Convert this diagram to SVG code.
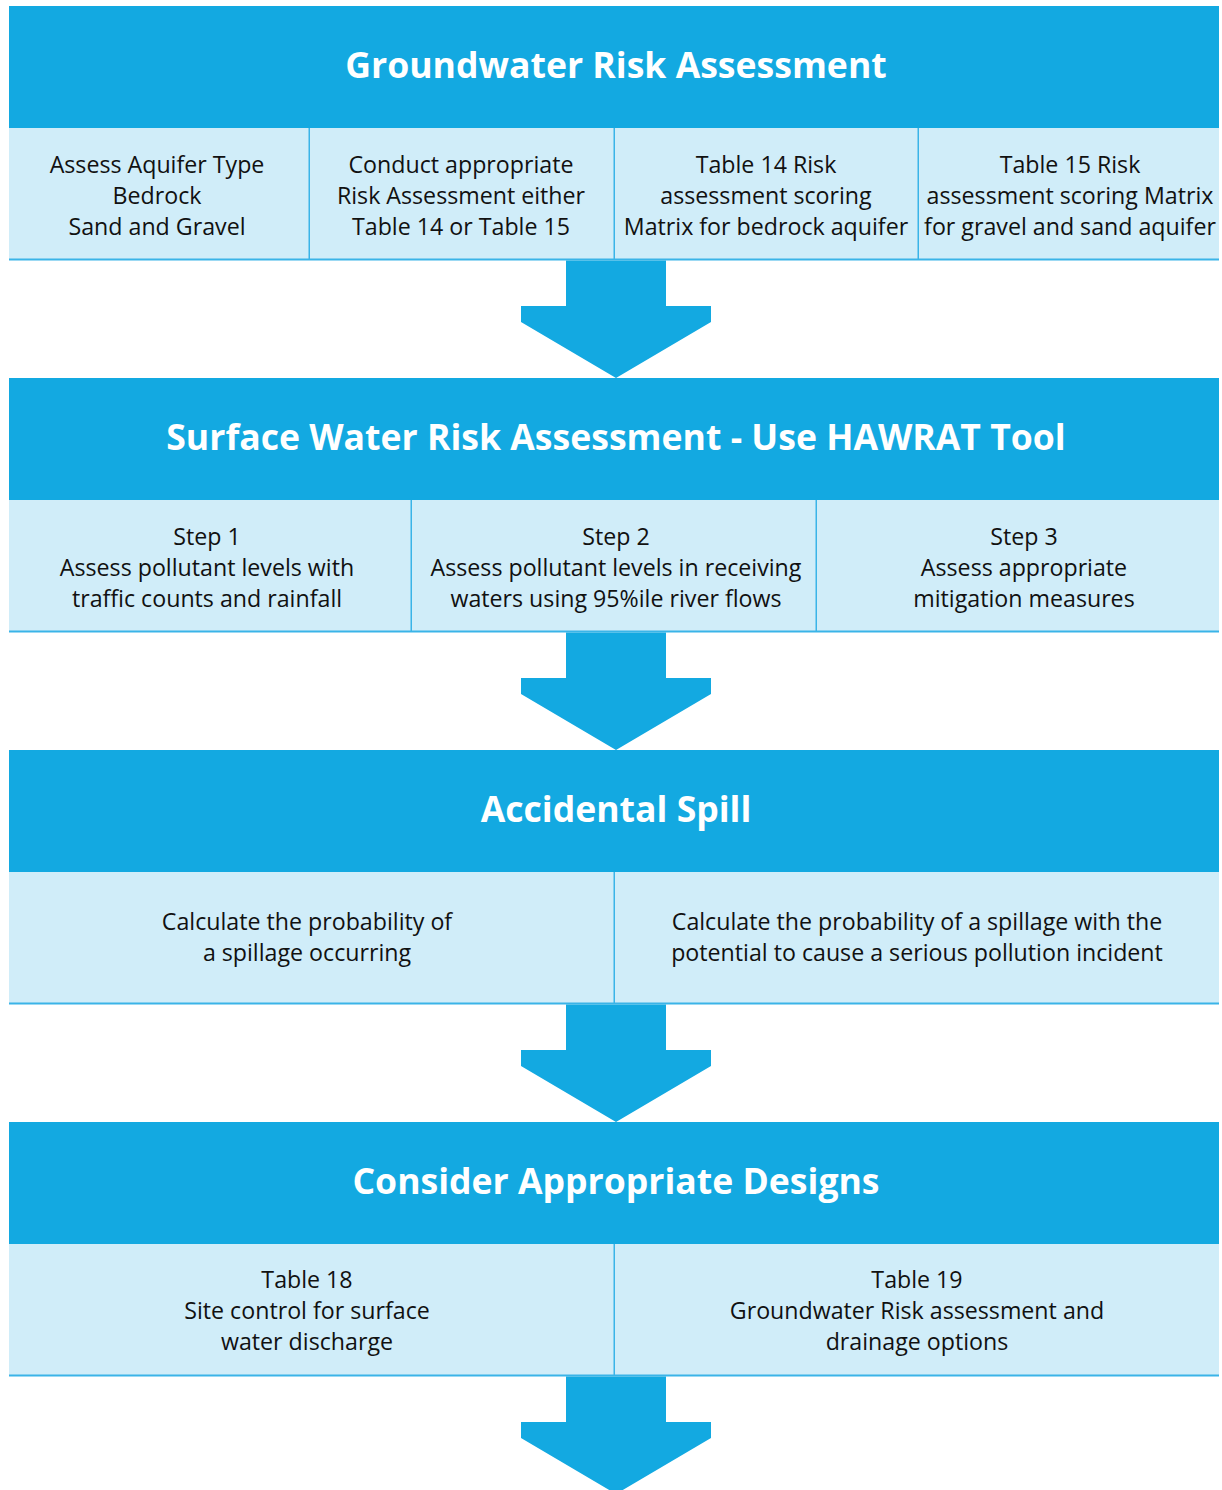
<svg xmlns="http://www.w3.org/2000/svg" width="1222" height="1490" viewBox="0 0 1222 1490">
<style>
.hdr{fill:#13a9e1}
.cell{fill:#d0edf9}
.line{fill:#3ab4e8}
.title{font-family:"Open Sans","Liberation Sans",sans-serif;font-weight:bold;font-size:35.6px;fill:#ffffff;text-anchor:middle}
.txt{font-family:"Open Sans","Liberation Sans",sans-serif;font-size:23.2px;fill:#111111;text-anchor:middle}
.arrow{fill:#13a9e1}
</style>
<rect width="1222" height="1490" fill="#ffffff"/>

<!-- Section 1 -->
<g id="groundwater-header">
<rect class="hdr" x="9" y="6" width="1210" height="122"/>
<text class="title" x="616" y="78">Groundwater Risk Assessment</text>
</g>
<g id="gw-cells-bg">
<rect class="cell" x="9" y="128" width="1210" height="132"/>
<rect class="line" x="9" y="258.5" width="1210" height="2"/>
<rect class="line" x="308.5" y="128" width="1.5" height="131"/>
<rect class="line" x="613.5" y="128" width="1.5" height="131"/>
<rect class="line" x="917.5" y="128" width="1.5" height="131"/>
</g>
<g id="gw-cell-1"><text class="txt" x="157" y="172.5">Assess Aquifer Type<tspan x="157" dy="31">Bedrock</tspan><tspan x="157" dy="31">Sand and Gravel</tspan></text></g>
<g id="gw-cell-2"><text class="txt" x="461" y="172.5">Conduct appropriate<tspan x="461" dy="31">Risk Assessment either</tspan><tspan x="461" dy="31">Table 14 or Table 15</tspan></text></g>
<g id="gw-cell-3"><text class="txt" x="766" y="172.5">Table 14 Risk<tspan x="766" dy="31">assessment scoring</tspan><tspan x="766" dy="31">Matrix for bedrock aquifer</tspan></text></g>
<g id="gw-cell-4"><text class="txt" x="1070" y="172.5">Table 15 Risk<tspan x="1070" dy="31">assessment scoring Matrix</tspan><tspan x="1070" dy="31">for gravel and sand aquifer</tspan></text></g>

<!-- Section 2 -->
<g id="surface-header">
<rect class="hdr" x="9" y="378" width="1210" height="122"/>
<text class="title" x="616" y="450">Surface Water Risk Assessment - Use HAWRAT Tool</text>
</g>
<g id="sw-cells-bg">
<rect class="cell" x="9" y="500" width="1210" height="132"/>
<rect class="line" x="9" y="630.5" width="1210" height="2"/>
<rect class="line" x="410.5" y="500" width="1.5" height="131"/>
<rect class="line" x="815.5" y="500" width="1.5" height="131"/>
</g>
<g id="sw-step-1"><text class="txt" x="207" y="544.5">Step 1<tspan x="207" dy="31">Assess pollutant levels with</tspan><tspan x="207" dy="31">traffic counts and rainfall</tspan></text></g>
<g id="sw-step-2"><text class="txt" x="616" y="544.5">Step 2<tspan x="616" dy="31">Assess pollutant levels in receiving</tspan><tspan x="616" dy="31">waters using 95%ile river flows</tspan></text></g>
<g id="sw-step-3"><text class="txt" x="1024" y="544.5">Step 3<tspan x="1024" dy="31">Assess appropriate</tspan><tspan x="1024" dy="31">mitigation measures</tspan></text></g>

<!-- Section 3 -->
<g id="spill-header">
<rect class="hdr" x="9" y="750" width="1210" height="122"/>
<text class="title" x="616" y="822">Accidental Spill</text>
</g>
<g id="spill-cells-bg">
<rect class="cell" x="9" y="872" width="1210" height="132"/>
<rect class="line" x="9" y="1002.5" width="1210" height="2"/>
<rect class="line" x="613.5" y="872" width="1.5" height="131"/>
</g>
<g id="spill-cell-1"><text class="txt" x="307" y="930">Calculate the probability of<tspan x="307" dy="31">a spillage occurring</tspan></text></g>
<g id="spill-cell-2"><text class="txt" x="917" y="930">Calculate the probability of a spillage with the<tspan x="917" dy="31">potential to cause a serious pollution incident</tspan></text></g>

<!-- Section 4 -->
<g id="designs-header">
<rect class="hdr" x="9" y="1122" width="1210" height="122"/>
<text class="title" x="616" y="1194">Consider Appropriate Designs</text>
</g>
<g id="designs-cells-bg">
<rect class="cell" x="9" y="1244" width="1210" height="132"/>
<rect class="line" x="9" y="1374.5" width="1210" height="2"/>
<rect class="line" x="613.5" y="1244" width="1.5" height="131"/>
</g>
<g id="designs-cell-1"><text class="txt" x="307" y="1287.5">Table 18<tspan x="307" dy="31">Site control for surface</tspan><tspan x="307" dy="31">water discharge</tspan></text></g>
<g id="designs-cell-2"><text class="txt" x="917" y="1287.5">Table 19<tspan x="917" dy="31">Groundwater Risk assessment and</tspan><tspan x="917" dy="31">drainage options</tspan></text></g>

<!-- Connectors -->
<g id="connectors">
<polygon class="arrow" points="566,260.5 666,260.5 666,306 711,306 711,322 616,378 521,322 521,306 566,306"/>
<polygon class="arrow" points="566,632.5 666,632.5 666,678 711,678 711,694 616,750 521,694 521,678 566,678"/>
<polygon class="arrow" points="566,1004.5 666,1004.5 666,1050 711,1050 711,1066 616,1122 521,1066 521,1050 566,1050"/>
<polygon class="arrow" points="566,1376.5 666,1376.5 666,1422 711,1422 711,1438 616,1494 521,1438 521,1422 566,1422"/>
</g>
</svg>
